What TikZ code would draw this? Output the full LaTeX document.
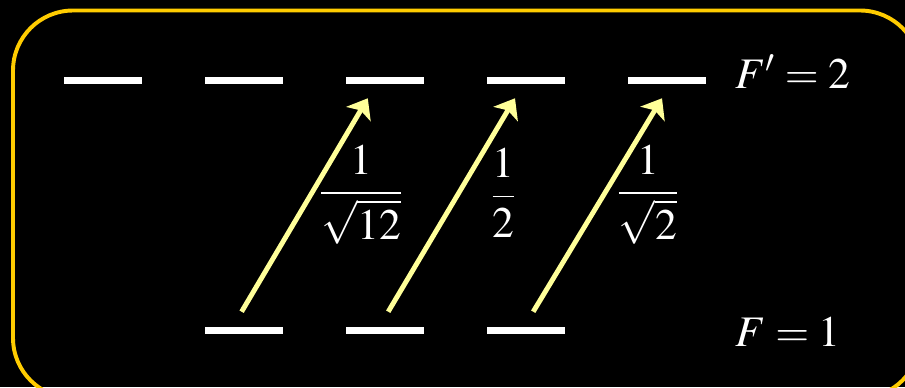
\documentclass[tikz,border=0pt]{standalone}
\usepackage{amsmath}
\usepackage{mathptmx}
\usetikzlibrary{arrows.meta, positioning}
\definecolor{goldline}{RGB}{255,204,0}
\definecolor{lightyel}{RGB}{255,255,153}

\begin{document}
\begin{tikzpicture}[x=0.025cm, y=-0.025cm,
  lvl/.style={fill=white, minimum width=1.95cm, minimum height=0.175cm, inner sep=0pt},
  trans/.style={draw=lightyel, line width=3.5pt, -{Stealth[length=13pt, width=20pt, inset=3pt, fill=lightyel]}},
  lab/.style={text=white, font=\fontsize{31}{36}\selectfont, inner sep=0pt}
]
  \useasboundingbox (0,0) rectangle (905,387);
  \fill[black] (0,0) rectangle (905,387);
  \draw[goldline, line width=2.8pt, rounded corners=1.5cm] (13,10.5) rectangle (920,398);

  \foreach \i/\x in {1/103, 2/244, 3/385, 4/526, 5/667}
    \node[lvl] (u\i) at (\x,80.5) {};
  \foreach \i/\x in {1/244, 2/385, 3/526}
    \node[lvl] (l\i) at (\x,330.5) {};

  \draw[trans] ([xshift=-0.06cm, yshift=0.375cm]l1.north) -- ([xshift=-0.43cm, yshift=-0.35cm]u3.south);
  \draw[trans] ([xshift=0.08cm, yshift=0.375cm]l2.north) -- ([xshift=-0.275cm, yshift=-0.35cm]u4.south);
  \draw[trans] ([xshift=0.18cm, yshift=0.375cm]l3.north) -- ([xshift=-0.125cm, yshift=-0.35cm]u5.south);

  \node[lab, anchor=base] (c1) at (361,204) {$\dfrac{1}{\sqrt{12}}$};
  \node[lab, anchor=base] (c2) at (503.5,207.5) {$\dfrac{1}{2}$};
  \node[lab, anchor=base] (c3) at (648,204) {$\dfrac{1}{\sqrt{2}}$};
  \node[lab, anchor=base west] (fu) at (735,88) {$F'=2$};
  \node[lab, anchor=base west] (fl) at (735,346) {$F=1$};
\end{tikzpicture}
\end{document}
